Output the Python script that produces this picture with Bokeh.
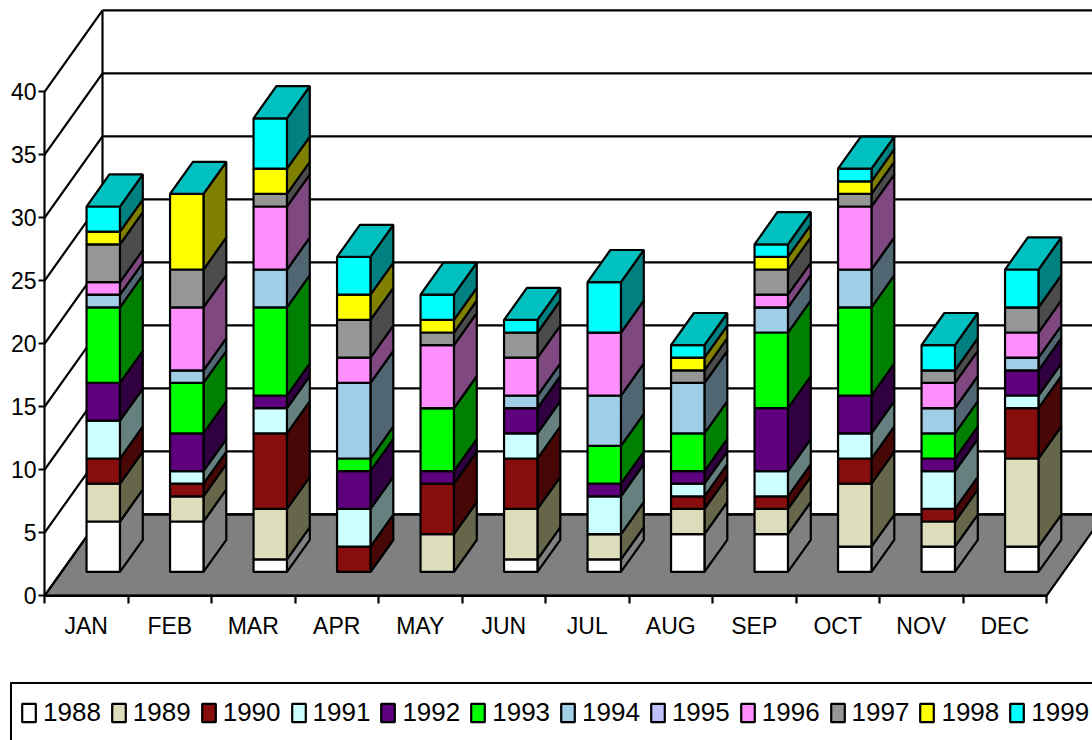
import numpy as np
from bokeh.embed import file_html
from bokeh.resources import INLINE
from bokeh.plotting import figure
from bokeh.models import FixedTicker, Legend, LegendItem, Range1d

months = ["JAN", "FEB", "MAR", "APR", "MAY", "JUN", "JUL", "AUG", "SEP", "OCT", "NOV", "DEC"]
y1988 = [4, 4, 1, 0, 0, 1, 1, 3, 3, 2, 2, 2]
y1989 = [3, 2, 4, 0, 3, 4, 2, 2, 2, 5, 2, 7]
y1990 = [2, 1, 6, 2, 4, 4, 0, 1, 1, 2, 1, 4]
y1991 = [3, 1, 2, 3, 0, 2, 3, 1, 2, 2, 3, 1]
y1992 = [3, 3, 1, 3, 1, 2, 1, 1, 5, 3, 1, 2]
y1993 = [6, 4, 7, 1, 5, 0, 3, 3, 6, 7, 2, 0]
y1994 = [1, 1, 3, 6, 0, 1, 4, 4, 2, 3, 2, 1]
y1995 = [0, 0, 0, 0, 0, 0, 0, 0, 0, 0, 0, 0]
y1996 = [1, 5, 5, 2, 5, 3, 5, 0, 1, 5, 2, 2]
y1997 = [3, 3, 1, 3, 1, 2, 0, 1, 2, 1, 1, 2]
y1998 = [1, 6, 2, 2, 1, 0, 0, 1, 1, 1, 0, 0]
y1999 = [2, 0, 4, 3, 2, 1, 4, 1, 1, 1, 2, 3]
years = ["1988", "1989", "1990", "1991", "1992", "1993", "1994", "1995", "1996", "1997", "1998", "1999"]
series = [y1988, y1989, y1990, y1991, y1992, y1993, y1994, y1995, y1996, y1997, y1998, y1999]
front_colors = ["#FFFFFF", "#DDDDBB", "#880E0E", "#CCFFFF", "#5F007F", "#00FF00",
                "#A0CEE6", "#C0C0FF", "#FF8FFF", "#969696", "#FFFF00", "#00FFFF"]
side_colors = ["#808080", "#66664A", "#470707", "#668080", "#300040", "#008000",
               "#506773", "#606080", "#804880", "#4C4C4C", "#808000", "#008080"]
top_color = "#00C0C0"
y_ticks = [0, 5, 10, 15, 20, 25, 30, 35, 40]

UX, UY = 83.5, 12.6          # pixels per category / per value
DX, DY = 58 / UX, 81.5 / UY  # full chart depth in data units
D0, D1 = 0.293, 0.687        # depth of bar front and back
BAR0, BAR1 = 0.3, 0.7
LW = 2.2
Y0 = 595.3                   # pixel row of value 0

p = figure(width=1092, height=740, output_backend="svg", toolbar_location=None,
           x_range=Range1d(-44 / UX, 1048 / UX), y_range=Range1d(-(740 - Y0) / UY, Y0 / UY),
           min_border_left=0, min_border_right=0, min_border_top=0, min_border_bottom=0,
           outline_line_color=None, background_fill_color="#FFFFFF")
p.grid.visible = False

# walls and floor
n = len(months)
p.patch([0, n, n + DX, DX], [0, 0, DY, DY], fill_color="#808080", line_color="#000000", line_width=LW)
v = np.array(y_ticks, dtype=float)
p.segment(np.zeros_like(v), v, np.full_like(v, DX), v + DY, line_color="#000000", line_width=LW)
p.segment(np.full_like(v, DX), v + DY, np.full_like(v, n + DX), v + DY, line_color="#000000", line_width=LW)
p.segment([DX], [DY], [DX], [v[-1] + DY], line_color="#000000", line_width=LW)

# bars
base = np.zeros(n)
idx = np.arange(n)
sx = (D1 - D0) * DX
sy = (D1 - D0) * DY
x0 = idx + BAR0 + D0 * DX
x1 = idx + BAR1 + D0 * DX
legend_items = []
for year, vals, fc, sc in zip(years, series, front_colors, side_colors):
    vals = np.array(vals, dtype=float)
    top = base + vals
    b = base + D0 * DY
    t = top + D0 * DY
    p.patches([[a, a + sx, a + sx, a] for a in x1],
              [[c, c + sy, d + sy, d] for c, d in zip(b, t)],
              fill_color=sc, line_color="#000000", line_width=LW)
    r = p.quad(left=x0, right=x1, bottom=b, top=t,
               fill_color=fc, line_color="#000000", line_width=LW)
    legend_items.append(LegendItem(label=year, renderers=[r]))
    base = top

# bar tops
t = base + D0 * DY
p.patches([[a, b, b + sx, a + sx] for a, b in zip(x0, x1)],
          [[c, c, c + sy, c + sy] for c in t],
          fill_color=top_color, line_color="#000000", line_width=LW)

# axes
ya = p.yaxis[0]
ya.fixed_location = 0
ya.ticker = FixedTicker(ticks=y_ticks)
ya.bounds = (0, 40)
ya.major_tick_out = 6
ya.major_tick_in = 0
ya.minor_tick_out = 0
ya.minor_tick_in = 0
ya.major_label_standoff = 2
ya.major_label_text_font = "Liberation Sans"
ya.major_label_text_font_size = "23px"
ya.major_label_text_color = "#000000"
ya.axis_line_width = LW
ya.major_tick_line_width = LW

xa = p.xaxis[0]
xa.fixed_location = 0
centers = [i + 0.5 for i in range(n)]
xa.ticker = FixedTicker(ticks=centers, minor_ticks=list(range(n + 1)))
xa.major_label_overrides = {c: m for c, m in zip(centers, months)}
xa.bounds = (0, n)
xa.major_tick_out = 0
xa.major_tick_in = 0
xa.minor_tick_out = 8
xa.minor_tick_in = 0
xa.major_label_standoff = 9
xa.major_label_text_font = "Liberation Sans"
xa.major_label_text_font_size = "23px"
xa.major_label_text_color = "#000000"
xa.axis_line_width = LW
xa.minor_tick_line_width = LW

legend = Legend(items=legend_items, orientation="horizontal", location=(10, -3),
                border_line_color="#000000", border_line_width=LW, border_line_alpha=1,
                background_fill_color="#FFFFFF", background_fill_alpha=1,
                padding=8, margin=0, spacing=9, glyph_width=17, glyph_height=23,
                label_standoff=6, label_text_font="Liberation Sans",
                label_text_font_size="26px", label_height=41, label_text_color="#000000")
p.add_layout(legend, "center")

open("out.html", "w").write(file_html(p, INLINE))
